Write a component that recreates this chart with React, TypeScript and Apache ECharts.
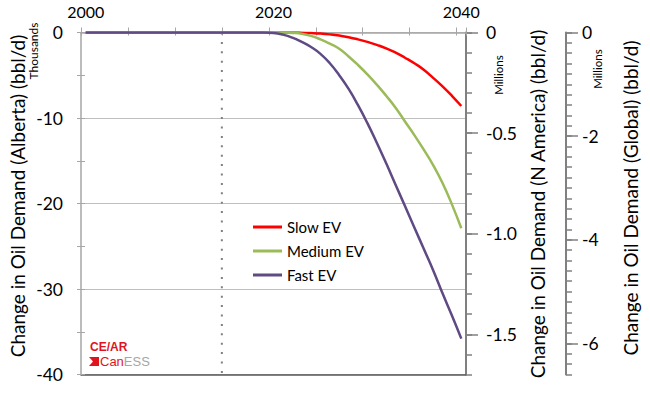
import React, { useEffect, useRef } from "react";
import * as echarts from "echarts";

const years: string[] = [
  "2000", "2001", "2002", "2003", "2004", "2005", "2006", "2007", "2008", "2009",
  "2010", "2011", "2012", "2013", "2014", "2015", "2016", "2017", "2018", "2019",
  "2020", "2021", "2022", "2023", "2024", "2025", "2026", "2027", "2028", "2029",
  "2030", "2031", "2032", "2033", "2034", "2035", "2036", "2037", "2038", "2039", "2040",
];

// Thousands bbl/d (Alberta)
const slowEV: number[] = [
  0, 0, 0, 0, 0, 0, 0, 0, 0, 0, 0, 0, 0, 0, 0, 0, 0, 0, 0, 0,
  0, 0, 0, -0.02, -0.06, -0.12, -0.22, -0.36, -0.55, -0.8,
  -1.1, -1.45, -1.85, -2.35, -2.95, -3.6, -4.35, -5.3, -6.3, -7.4, -8.6,
];
const mediumEV: number[] = [
  0, 0, 0, 0, 0, 0, 0, 0, 0, 0, 0, 0, 0, 0, 0, 0, 0, 0, 0, 0,
  0, 0, -0.05, -0.15, -0.4, -0.8, -1.3, -1.9, -2.8, -3.8,
  -4.9, -6.1, -7.4, -8.8, -10.4, -12.0, -13.7, -15.5, -17.6, -20.1, -22.9,
];
const fastEV: number[] = [
  0, 0, 0, 0, 0, 0, 0, 0, 0, 0, 0, 0, 0, 0, 0, 0, 0, 0, 0, 0,
  -0.05, -0.25, -0.6, -1.1, -1.7, -2.5, -3.6, -5.0, -6.6, -8.5,
  -10.6, -12.9, -15.3, -17.8, -20.3, -22.8, -25.3, -27.8, -30.5, -33.1, -35.8,
];

const seriesNames: string[] = ["Slow EV", "Medium EV", "Fast EV"];
const seriesColors: string[] = ["#FF0000", "#9BBB59", "#5F4A84"];

const baseYearDivider: number[][] = [
  [2014.5, 0],
  [2014.5, -40],
];

const albertaRange = { min: -40, max: 0 };
const nAmericaRange = { min: -1.7, max: 0 };
const globalRange = { min: -6.6, max: 0 };
const nAmericaMajor: number[] = [0, -0.5, -1.0, -1.5];
const globalMajor: number[] = [0, -2, -4, -6];

const FONT = "Lato, 'Open Sans', sans-serif";

export default function App() {
  const ref = useRef<HTMLDivElement>(null);

  useEffect(() => {
    document.body.style.margin = "0";
    if (!ref.current) return;
    const chart = echarts.init(ref.current, null, { renderer: "svg" });

    const gray = "#A6A6A6";
    const darkGray = "#808080";

    const series: any[] = [
      {
        type: "line",
        name: "divider",
        xAxisIndex: 3,
        yAxisIndex: 0,
        data: baseYearDivider,
        symbol: "none",
        silent: true,
        lineStyle: { color: "#7F7F7F", width: 2, type: [2, 7.4] },
        z: 1,
      },
    ];
    const dataSets = [slowEV, mediumEV, fastEV];
    seriesNames.forEach((n, i) => {
      series.push({
        type: "line",
        name: n,
        xAxisIndex: 0,
        yAxisIndex: 0,
        data: dataSets[i],
        showSymbol: false,
        symbol: "none",
        smooth: 0.5,
        lineStyle: { color: seriesColors[i], width: 2.5 },
        itemStyle: { color: seriesColors[i] },
        z: 3 + i,
      });
    });

    const rotText = (text: string, x: number, y: number, size: number) => ({
      type: "text",
      x,
      y,
      rotation: Math.PI / 2,
      silent: true,
      style: {
        text,
        fontSize: size,
        fontFamily: FONT,
        fill: "#000",
        align: "center",
        verticalAlign: "middle",
      },
    });

    chart.setOption({
      animation: false,
      textStyle: { fontFamily: FONT },
      grid: { left: 81, top: 32.5, width: 385, height: 342, containLabel: false },
      legend: {
        data: seriesNames,
        orient: "vertical",
        left: 248,
        top: 214,
        icon: "rect",
        itemWidth: 29,
        itemHeight: 3,
        itemGap: 8,
        textStyle: { fontSize: 15, fontFamily: FONT, color: "#000", lineHeight: 16 },
      },
      xAxis: [
        {
          type: "category",
          position: "top",
          data: years,
          boundaryGap: true,
          axisLine: { show: true, onZero: false, lineStyle: { color: gray, width: 1.5 } },
          axisTick: { show: true, interval: 4, length: 5, lineStyle: { color: gray, width: 1 } },
          axisLabel: { interval: 19, margin: 13, fontSize: 16, color: "#000", fontFamily: FONT },
          splitLine: { show: false },
        },
        {
          type: "category",
          position: "top",
          data: years,
          boundaryGap: true,
          axisLine: { show: false, onZero: false },
          axisTick: { show: true, inside: true, interval: 4, length: 3, lineStyle: { color: gray, width: 1 } },
          axisLabel: { show: false },
          splitLine: { show: false },
        },
        {
          type: "category",
          position: "bottom",
          data: years,
          boundaryGap: true,
          axisLine: { show: true, onZero: false, lineStyle: { color: "#595959", width: 1.5 } },
          axisTick: { show: false },
          axisLabel: { show: false },
          splitLine: { show: false },
        },
        {
          type: "value",
          min: 1999.5,
          max: 2040.5,
          show: false,
          axisLine: { onZero: false },
          splitLine: { show: false },
        },
      ],
      yAxis: [
        {
          type: "value",
          position: "left",
          min: albertaRange.min,
          max: albertaRange.max,
          interval: 10,
          axisLine: { show: true, onZero: false, lineStyle: { color: gray, width: 1.5 } },
          axisTick: { show: false },
          axisLabel: { margin: 18, fontSize: 17.5, color: "#000", fontFamily: FONT },
          splitLine: { show: true, lineStyle: { color: "#BFBFBF", width: 1 } },
        },
        {
          type: "value",
          position: "left",
          min: albertaRange.min,
          max: albertaRange.max,
          interval: 5,
          axisLine: { show: false, onZero: false },
          axisTick: { show: true, length: 4, lineStyle: { color: gray } },
          axisLabel: { show: false },
          splitLine: { show: false },
        },
        {
          type: "value",
          position: "left",
          min: albertaRange.min,
          max: albertaRange.max,
          interval: 5,
          axisLine: { show: false, onZero: false },
          axisTick: { show: true, inside: true, length: 4, lineStyle: { color: gray } },
          axisLabel: { show: false },
          splitLine: { show: false },
        },
        {
          type: "value",
          position: "right",
          min: nAmericaRange.min,
          max: nAmericaRange.max,
          interval: 0.1,
          axisLine: { show: true, onZero: false, lineStyle: { color: darkGray, width: 2 } },
          axisTick: { show: true, length: 6, lineStyle: { color: darkGray, width: 1.5 } },
          axisLabel: { show: false },
          splitLine: { show: false },
        },
        {
          type: "value",
          position: "right",
          min: nAmericaRange.min,
          max: nAmericaRange.max,
          axisLine: { show: false, onZero: false },
          axisTick: { show: true, length: 12, customValues: nAmericaMajor, lineStyle: { color: darkGray, width: 1.5 } },
          axisLabel: {
            show: true,
            customValues: nAmericaMajor,
            margin: 20,
            fontSize: 17.5,
            color: "#000",
            fontFamily: FONT,
            formatter: (v: number) => (v === 0 ? "0" : v.toFixed(1)),
          },
          splitLine: { show: false },
        },
        {
          type: "value",
          position: "right",
          offset: 100,
          min: globalRange.min,
          max: globalRange.max,
          interval: 0.2,
          axisLine: { show: true, onZero: false, lineStyle: { color: darkGray, width: 2 } },
          axisTick: { show: true, length: 6, lineStyle: { color: darkGray, width: 1.5 } },
          axisLabel: { show: false },
          splitLine: { show: false },
        },
        {
          type: "value",
          position: "right",
          offset: 100,
          min: globalRange.min,
          max: globalRange.max,
          axisLine: { show: false, onZero: false },
          axisTick: { show: true, length: 12, customValues: globalMajor, lineStyle: { color: darkGray, width: 1.5 } },
          axisLabel: {
            show: true,
            customValues: globalMajor,
            margin: 16,
            fontSize: 17.5,
            color: "#000",
            fontFamily: FONT,
            formatter: (v: number) => (v === 0 ? "0" : v.toFixed(0)),
          },
          splitLine: { show: false },
        },
      ],
      graphic: [
        rotText("Change in Oil Demand (Alberta) (bbl/d)", 17, 196, 19),
        rotText("Change in Oil Demand (N America) (bbl/d)", 537, 204, 19),
        rotText("Change in Oil Demand (Global) (bbl/d)", 630, 198, 19),
        rotText("Thousands", 33, 51, 12),
        rotText("Millions", 498, 75, 11.5),
        rotText("Millions", 597, 69, 11.5),
        {
          type: "text",
          x: 90,
          y: 347,
          silent: true,
          style: {
            text: "CE/AR",
            fontSize: 12,
            fontWeight: "bold",
            fontFamily: "'Liberation Sans', Arial, sans-serif",
            fill: "#E0141E",
            verticalAlign: "middle",
          },
        },
        {
          type: "polygon",
          silent: true,
          shape: { points: [[89, 357], [99, 357], [99, 366], [89, 366], [93, 361.5]] },
          style: { fill: "#E0141E" },
        },
        {
          type: "text",
          x: 100,
          y: 361.5,
          silent: true,
          style: {
            text: "{a|Can}{b|ESS}",
            fontSize: 13,
            fontFamily: "'Liberation Sans', Arial, sans-serif",
            verticalAlign: "middle",
            rich: {
              a: { fill: "#E0141E", fontSize: 13, fontFamily: "'Liberation Sans', Arial, sans-serif" },
              b: { fill: "#A6A6A6", fontSize: 13, fontFamily: "'Liberation Sans', Arial, sans-serif" },
            },
          },
        },
      ],
      series,
    });

    return () => {
      chart.dispose();
    };
  }, []);

  return <div ref={ref} style={{ width: 650, height: 394 }} />;
}
